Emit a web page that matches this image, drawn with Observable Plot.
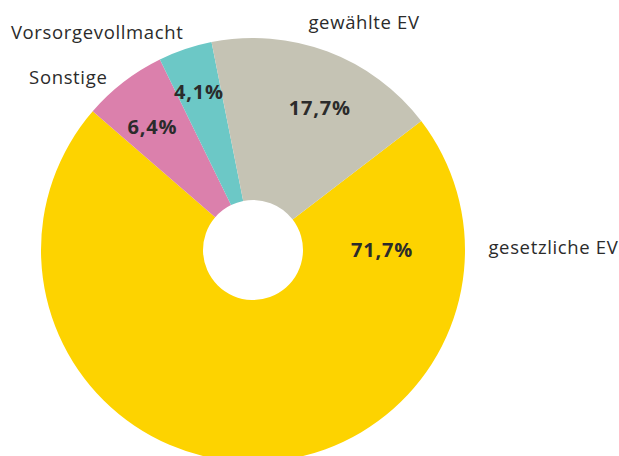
<!DOCTYPE html>
<html><head><meta charset="utf-8">
<script src="https://cdn.jsdelivr.net/npm/d3@7"></script>
<script src="https://cdn.jsdelivr.net/npm/@observablehq/plot@0.6"></script>
<style>
body{margin:0;background:#fff;overflow:hidden}
g[font-weight="bold"] text{letter-spacing:0.8px}
g[font-size="18.5"] text{letter-spacing:0.65px}
</style>
</head><body><div id="chart"></div>
<script>
// ---- data ----
const categories = ["gesetzliche EV", "Sonstige", "Vorsorgevollmacht", "gewählte EV"];
const values = [71.7, 6.4, 4.1, 17.7];
const valueLabels = ["71,7%", "6,4%", "4,1%", "17,7%"];
const colors = ["#FDD300", "#DB80AC", "#6CC8C6", "#C5C3B4"];

// ---- layout ----
const W = 619, H = 456, CX = 253, CY = 250, R = 212;
const innerFrac = 50 / 212;
const startDeg = 52.5;
// inner label placement: [angle in deg, radius fraction]
const innerLabelLayout = [[90, 0.606], [-39.5, 0.75], [-19, 0.79], [25, 0.74]];
// outer category label placement in units of radius (x right, y up) + anchor
const outerLabelLayout = [
  [1.108, 0.01, "start"],
  [-0.689, 0.811, "end"],
  [-0.330, 1.024, "end"],
  [0.259, 1.075, "start"]
];

const rows = categories.map((c, i) => ({category: c, value: values[i], label: valueLabels[i], color: colors[i]}));
const s0 = startDeg * Math.PI / 180;
const arcs = d3.pie().sort(null).value(d => d.value).startAngle(s0).endAngle(s0 + 2 * Math.PI)(rows);

const innerLabels = arcs.map((a, i) => {
  const [deg, rf] = innerLabelLayout[i];
  const ang = deg * Math.PI / 180;
  return {text: a.data.label, x: rf * Math.sin(ang), y: rf * Math.cos(ang)};
});
const outerLabels = rows.map((d, i) => ({text: d.category, x: outerLabelLayout[i][0], y: outerLabelLayout[i][1], anchor: outerLabelLayout[i][2]}));

const donut = (index, scales) => {
  const cx = scales.x(0), cy = scales.y(0), r = scales.x(1) - scales.x(0);
  const arc = d3.arc().innerRadius(r * innerFrac).outerRadius(r);
  const g = d3.create("svg:g").attr("transform", `translate(${cx},${cy})`);
  g.selectAll("path").data(arcs).join("path").attr("d", arc).attr("fill", d => d.data.color);
  return g.node();
};

const labelStyle = {fill: "#2b2b2b", fontSize: 18.5, fontFamily: "Open Sans"};
const chart = Plot.plot({
  width: W, height: H,
  margin: 0,
  style: {background: "#fff"},
  x: {domain: [-CX / R, (W - CX) / R], range: [0, W], axis: null},
  y: {domain: [-(H - CY) / R, CY / R], range: [H, 0], axis: null},
  marks: [
    donut,
    Plot.text(innerLabels, {x: "x", y: "y", text: "text", fill: "#2b2b2b", fontSize: 20, fontWeight: "bold", fontFamily: "Open Sans"}),
    Plot.text(outerLabels.filter(d => d.anchor === "start"), {x: "x", y: "y", text: "text", textAnchor: "start", ...labelStyle}),
    Plot.text(outerLabels.filter(d => d.anchor === "end"), {x: "x", y: "y", text: "text", textAnchor: "end", ...labelStyle})
  ]
});
document.getElementById("chart").appendChild(chart);
</script>
</body></html>
